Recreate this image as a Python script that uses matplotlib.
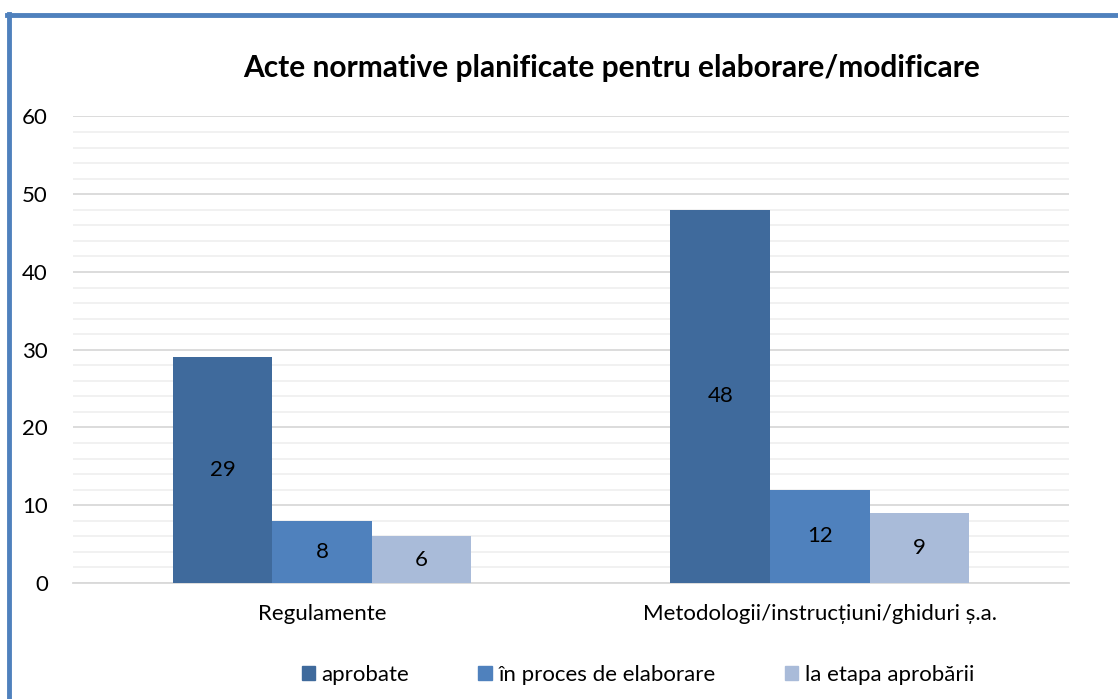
import numpy as np
import matplotlib.pyplot as plt
from matplotlib.lines import Line2D
from matplotlib.patches import Patch

plt.rcParams['font.family'] = ['Lato', 'DejaVu Sans']

categories = ['Regulamente', 'Metodologii/instrucțiuni/ghiduri ș.a.']
series = ['aprobate', 'în proces de elaborare', 'la etapa aprobării']
aprobate = [29, 48]
in_proces = [8, 12]
la_etapa = [6, 9]
colors = ['#3F6A9C', '#4F81BD', '#A9BBD9']

fig = plt.figure(figsize=(11.18, 6.99), dpi=100)
ax = fig.add_axes([0.0653, 0.166, 0.8907, 0.6674])

x = np.arange(len(categories))
w = 0.2
vals = [aprobate, in_proces, la_etapa]
for k, (name, v) in enumerate(zip(series, vals)):
    bars = ax.bar(x + (k - 1) * w, v, w, color=colors[k], label=name, zorder=3)
    for b, val in zip(bars, v):
        ax.text(b.get_x() + b.get_width() / 2, val / 2, str(val),
                ha='center', va='center', fontsize=16, color='black', zorder=4)

ax.set_xlim(-0.5, 1.5)
ax.set_ylim(0, 60)
ax.set_yticks(range(0, 61, 10))
ax.set_yticks(range(0, 61, 2), minor=True)
ax.grid(axis='y', which='major', color='#D9D9D9', lw=1.3, zorder=0)
ax.grid(axis='y', which='minor', color='#F0F0F0', lw=1.3, zorder=0)
ax.set_xticks(x)
ax.set_xticklabels(categories)
ax.tick_params(axis='both', which='both', length=0, labelsize=16)
ax.tick_params(axis='y', pad=18)
ax.tick_params(axis='x', pad=15)
for s in ['top', 'right', 'left']:
    ax.spines[s].set_visible(False)
ax.spines['bottom'].set_color('#D9D9D9')
ax.spines['bottom'].set_linewidth(1.3)

fig.text(0.5475, 0.903, 'Acte normative planificate pentru elaborare/modificare',
         ha='center', va='center', fontsize=21.5, fontweight='bold')

handles = [Patch(color=c) for c in colors]
fig.legend(handles, series, loc='center', bbox_to_anchor=(0.5705, 0.034), ncol=3,
           frameon=False, fontsize=16, handlelength=0.6, handleheight=0.6,
           handletextpad=0.3, columnspacing=3.1)

# chart border (blue frame, top and left)
fig.add_artist(Line2D([7 / 1118, 1], [1 - 15 / 699, 1 - 15 / 699], color='#4F81BD', lw=3.5,
                      transform=fig.transFigure))
fig.add_artist(Line2D([9 / 1118, 9 / 1118], [0, 1 - 14 / 699], color='#4F81BD', lw=3.5,
                      transform=fig.transFigure))

fig.savefig('out.png', dpi=100)
